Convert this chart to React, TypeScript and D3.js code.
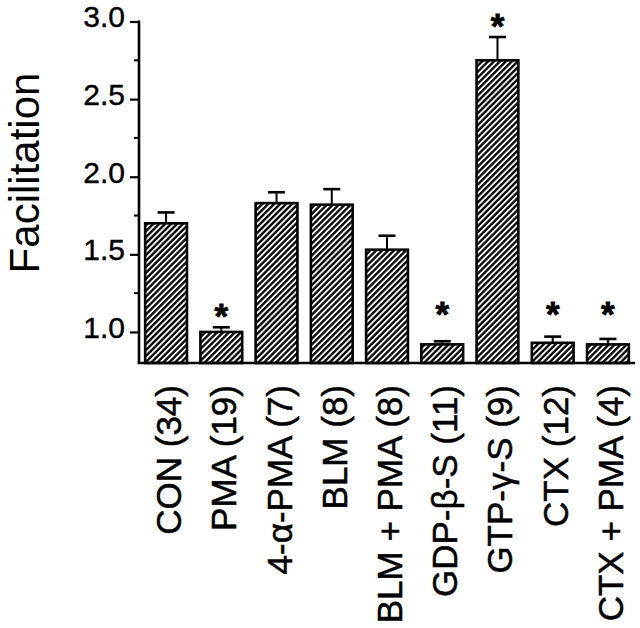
import * as d3 from 'd3';
import React, { useRef, useEffect } from 'react';

// treatment groups (n in brackets) and facilitation values
const groups = [
  'CON (34)', 'PMA (19)', '4-α-PMA (7)', 'BLM (8)', 'BLM + PMA (8)',
  'GDP-β-S (11)', 'GTP-γ-S (9)', 'CTX (12)', 'CTX + PMA (4)',
];
const means = [1.70, 1.00, 1.83, 1.82, 1.53, 0.92, 2.75, 0.93, 0.92];
const sems = [0.07, 0.03, 0.07, 0.10, 0.09, 0.02, 0.15, 0.04, 0.035];
// where the asterisk sits (null = not significant)
const stars = [null, 1.155, null, null, null, 1.165, 3.02, 1.165, 1.165];
const majorTicks = [1.0, 1.5, 2.0, 2.5, 3.0];
const minorTicks = [1.25, 1.75, 2.25, 2.75];

const FONT = 'Liberation Sans, Arial, Helvetica, sans-serif';

function App() {
  const ref = useRef(null);

  useEffect(() => {
    const svg = d3.select(ref.current);
    svg.selectAll('*').remove();

    const left = 139, right = 635, top = 21.5, bottom = 363;

    const x = d3.scaleBand()
      .domain(groups)
      .range([left, right])
      .paddingInner(0.2)
      .paddingOuter(0.09);
    const y = d3.scaleLinear()
      .domain([0.8, 3.0])
      .range([bottom, top]);

    // hatch
    const P = 4.2;
    const pat = svg.append('defs').append('pattern')
      .attr('id', 'hatch')
      .attr('patternUnits', 'userSpaceOnUse')
      .attr('width', P)
      .attr('height', P)
      .attr('patternTransform', 'rotate(45)');
    pat.append('rect').attr('width', P).attr('height', P).attr('fill', 'white');
    pat.append('line')
      .attr('x1', P / 2).attr('x2', P / 2).attr('y1', -1).attr('y2', P + 1)
      .attr('stroke', 'black').attr('stroke-width', 2.3);

    const data = groups.map((g, i) => ({ g, m: means[i], e: sems[i], s: stars[i] }));
    const cx = (g) => x(g) + x.bandwidth() / 2;

    // error bars
    const eb = svg.append('g').selectAll('g').data(data).enter().append('g');
    eb.append('line')
      .attr('x1', d => cx(d.g)).attr('x2', d => cx(d.g))
      .attr('y1', d => y(d.m))
      .attr('y2', d => y(d.m + d.e))
      .attr('stroke', 'black').attr('stroke-width', 2);
    eb.append('line')
      .attr('x1', d => cx(d.g) - 8.5)
      .attr('x2', d => cx(d.g) + 8.5)
      .attr('y1', d => y(d.m + d.e))
      .attr('y2', d => y(d.m + d.e))
      .attr('stroke', 'black').attr('stroke-width', 2.6);

    // bars
    svg.append('g').selectAll('rect').data(data).enter().append('rect')
      .attr('x', d => x(d.g) + 1.2)
      .attr('width', x.bandwidth() - 2.4)
      .attr('y', d => y(d.m))
      .attr('height', d => bottom - y(d.m))
      .attr('fill', 'url(#hatch)')
      .attr('stroke', 'black')
      .attr('stroke-width', 2.6);

    // asterisks
    svg.append('g').selectAll('text').data(data.filter(d => d.s !== null)).enter().append('text')
      .attr('x', d => cx(d.g))
      .attr('y', d => y(d.s) + 20)
      .attr('text-anchor', 'middle')
      .attr('font-family', FONT)
      .attr('font-weight', 'bold')
      .attr('font-size', 35)
      .attr('stroke', 'black')
      .attr('stroke-width', 0.8)
      .text('*');

    // y axis
    const yAxis = svg.append('g')
      .attr('transform', `translate(${left},0)`)
      .call(d3.axisLeft(y).tickValues(majorTicks).tickSize(9).tickPadding(5)
        .tickFormat(d3.format('.1f')));
    yAxis.select('.domain').remove();
    yAxis.selectAll('line').attr('stroke', 'black').attr('stroke-width', 2.2);
    yAxis.selectAll('text')
      .attr('font-family', FONT)
      .attr('font-size', 30)
      .attr('fill', 'black')
      .attr('stroke', 'black')
      .attr('stroke-width', 0.4)
      .attr('dy', '0.18em');
    svg.append('g').selectAll('line').data(minorTicks).enter().append('line')
      .attr('x1', left - 5).attr('x2', left)
      .attr('y1', d => y(d)).attr('y2', d => y(d))
      .attr('stroke', 'black').attr('stroke-width', 2);
    svg.append('line')
      .attr('x1', left).attr('x2', left)
      .attr('y1', top - 1).attr('y2', bottom)
      .attr('stroke', 'black').attr('stroke-width', 2.6);

    // x axis
    svg.append('line')
      .attr('x1', left - 1.3).attr('x2', right)
      .attr('y1', bottom).attr('y2', bottom)
      .attr('stroke', 'black').attr('stroke-width', 2.6);

    // category labels, rotated
    svg.append('g').selectAll('text').data(groups).enter().append('text')
      .attr('transform', d => `translate(${cx(d) + 15},385) rotate(-90)`)
      .attr('text-anchor', 'end')
      .attr('font-family', FONT)
      .attr('font-size', 35)
      .attr('stroke', 'black')
      .attr('stroke-width', 0.5)
      .text(d => d);

    // y title
    svg.append('text')
      .attr('transform', 'translate(39,173) rotate(-90)')
      .attr('text-anchor', 'middle')
      .attr('font-family', FONT)
      .attr('font-size', 42)
      .text('Facilitation');
  }, []);

  return (
    <svg ref={ref} width={640} height={628}
      style={{ position: 'absolute', left: 0, top: 0, background: 'white' }} />
  );
}

export default App;
